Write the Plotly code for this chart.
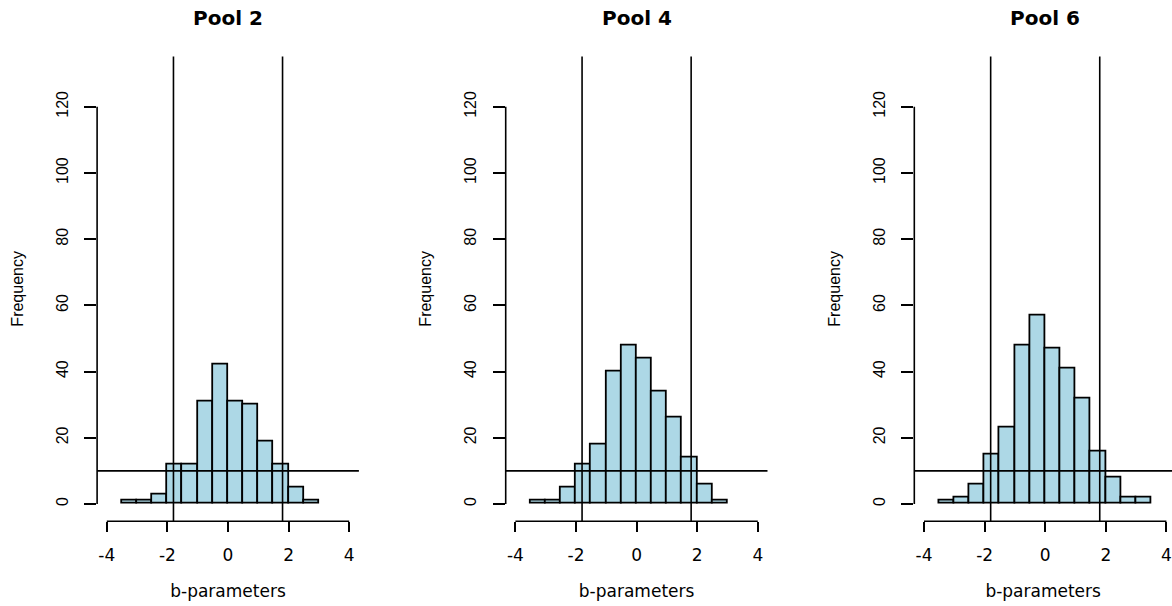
import plotly.graph_objects as go

# ---- data -------------------------------------------------------------
pool_titles = ["Pool 2", "Pool 4", "Pool 6"]

# left edges of the 0.5-wide histogram bins
bin_width = 0.5
left_edges_pool2 = [-3.5, -3.0, -2.5, -2.0, -1.5, -1.0, -0.5, 0.0, 0.5, 1.0, 1.5, 2.0, 2.5]
left_edges_pool4 = [-3.5, -3.0, -2.5, -2.0, -1.5, -1.0, -0.5, 0.0, 0.5, 1.0, 1.5, 2.0, 2.5]
left_edges_pool6 = [-3.5, -3.0, -2.5, -2.0, -1.5, -1.0, -0.5, 0.0, 0.5, 1.0, 1.5, 2.0, 2.5, 3.0]

counts_pool2 = [1, 1, 3, 12, 12, 31, 42, 31, 30, 19, 12, 5, 1]
counts_pool4 = [1, 1, 5, 12, 18, 40, 48, 44, 34, 26, 14, 6, 1]
counts_pool6 = [1, 2, 6, 15, 23, 48, 57, 47, 41, 32, 16, 8, 2, 2]

# reference lines: b cut-offs and minimum frequency
cutoff_b = [-1.8, 1.8]
cutoff_freq = 10

x_tick_values = [-4, -2, 0, 2, 4]
x_tick_labels = ["-4", "-2", "0", "2", "4"]
y_tick_values = [0, 20, 40, 60, 80, 100, 120]
y_tick_labels = ["0", "20", "40", "60", "80", "100", "120"]

x_label = "b-parameters"
y_label = "Frequency"

# ---- layout geometry (pixels) -----------------------------------------
W, H = 1172, 606
xlim = (-4.32, 4.32)          # c(-4, 4) plus 4 % padding
ylim = (-5.2, 135.2)          # c(0, 130) plus 4 % padding
panel_centres = [228.0, 636.6, 1045.2]
px_per_unit = 30.3
plot_top, plot_bottom = 56.5, 521.2

LINE = "black"
FILL = "#ADD8E6"
H_FONT = "DejaVu Sans"
V_FONT = "Liberation Sans"
LW = 1.6

fig = go.Figure()

panels = [
    (left_edges_pool2, counts_pool2),
    (left_edges_pool4, counts_pool4),
    (left_edges_pool6, counts_pool6),
]

y_domain = [1 - plot_bottom / H, 1 - plot_top / H]

for i, ((edges, counts), title) in enumerate(zip(panels, pool_titles)):
    n = i + 1
    xa = "x" if n == 1 else f"x{n}"
    ya = "y" if n == 1 else f"y{n}"
    centres = [e + bin_width / 2 for e in edges]

    fig.add_trace(go.Bar(
        x=centres, y=counts, width=bin_width,
        marker=dict(color=FILL, line=dict(color=LINE, width=1.8)),
        xaxis=xa, yaxis=ya, showlegend=False, hoverinfo="x+y",
    ))

    cx = panel_centres[i]
    left_px = cx + xlim[0] * px_per_unit
    right_px = cx + xlim[1] * px_per_unit
    x_hi = xlim[1]
    if right_px > W:
        right_px = W
        x_hi = (W - cx) / px_per_unit

    xkey = "xaxis" if n == 1 else f"xaxis{n}"
    ykey = "yaxis" if n == 1 else f"yaxis{n}"
    fig.update_layout(**{
        xkey: dict(
            domain=[left_px / W, right_px / W], range=[xlim[0], x_hi],
            anchor=ya, showgrid=False, zeroline=False, showline=False,
            ticks="outside", ticklen=10, tickwidth=LW, tickcolor=LINE,
            tickvals=x_tick_values, ticktext=x_tick_labels,
            tickfont=dict(family=H_FONT, size=17, color="black"),
            ticklabelstandoff=8,
            title=dict(text=x_label, standoff=21,
                       font=dict(family=H_FONT, size=17, color="black")),
        ),
        ykey: dict(
            domain=y_domain, range=list(ylim), anchor=xa,
            showgrid=False, zeroline=False, showline=False,
            ticks="outside", ticklen=12, tickwidth=LW, tickcolor=LINE,
            tickvals=y_tick_values, ticktext=y_tick_labels, tickangle=-90,
            tickfont=dict(family=V_FONT, size=16, color="black"),
            ticklabelstandoff=10,
            title=dict(text=y_label, standoff=26,
                       font=dict(family=V_FONT, size=16, color="black")),
        ),
    })

    # axis lines spanning only the labelled ticks
    fig.add_shape(type="line", xref=xa, yref=f"{ya} domain",
                  x0=x_tick_values[0], x1=x_tick_values[-1], y0=0, y1=0,
                  line=dict(color=LINE, width=LW))
    fig.add_shape(type="line", xref=f"{xa} domain", yref=ya,
                  x0=0, x1=0, y0=y_tick_values[0], y1=y_tick_values[-1],
                  line=dict(color=LINE, width=LW))
    # cut-off lines
    for b in cutoff_b:
        fig.add_shape(type="line", xref=xa, yref=f"{ya} domain",
                      x0=b, x1=b, y0=0, y1=1,
                      line=dict(color=LINE, width=LW))
    fig.add_shape(type="line", xref=f"{xa} domain", yref=ya,
                  x0=0, x1=1, y0=cutoff_freq, y1=cutoff_freq,
                  line=dict(color=LINE, width=LW))

    fig.add_annotation(
        text=title, xref=xa, yref="paper", x=0, y=1 - 18 / H,
        xanchor="center", yanchor="middle", showarrow=False,
        font=dict(family=H_FONT, size=20, color="black", weight="bold"),
    )

fig.update_layout(
    width=W, height=H, margin=dict(l=0, r=0, t=0, b=0),
    paper_bgcolor="white", plot_bgcolor="white",
    bargap=0, showlegend=False,
)

fig.write_html("out.html")
